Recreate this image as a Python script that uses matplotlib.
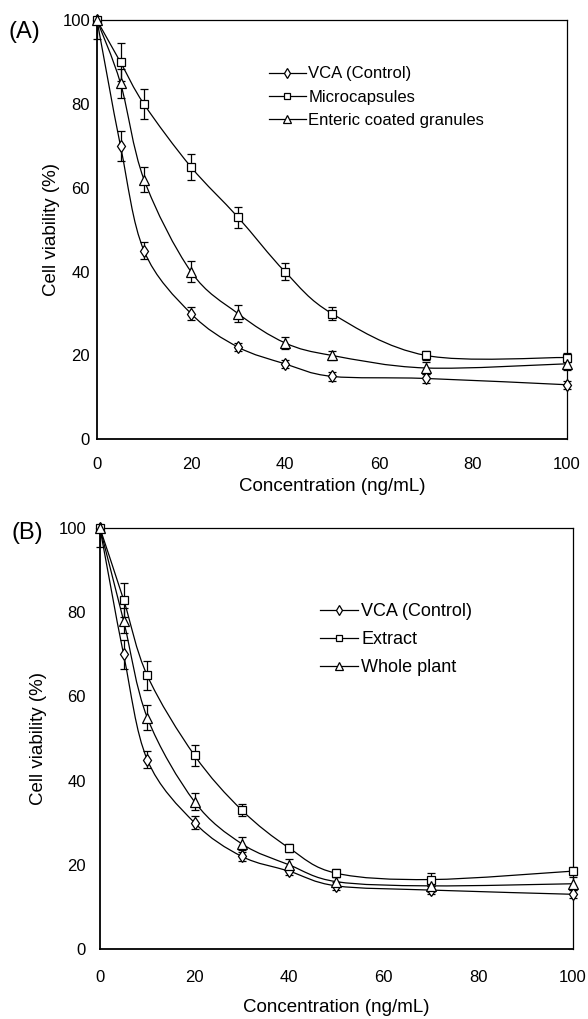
import matplotlib
matplotlib.use("Agg")
import matplotlib.pyplot as plt
import numpy as np
from matplotlib.path import Path
from matplotlib.patches import PathPatch
from matplotlib.lines import Line2D

plt.rcParams['font.family'] = ['Liberation Sans', 'DejaVu Sans']

conc = [0, 5, 10, 20, 30, 40, 50, 70, 100]

# Panel A
a_vca = [100, 70, 45, 30, 22, 18, 15, 14.5, 13]
a_vca_err = [4.5, 3.5, 2, 1.5, 1, 1, 1, 1, 1]
a_micro = [100, 90, 80, 65, 53, 40, 30, 20, 19.5]
a_micro_err = [0, 4.5, 3.5, 3, 2.5, 2, 1.5, 1, 1]
a_enteric = [100, 85, 62, 40, 30, 23, 20, 17, 18]
a_enteric_err = [0, 3.5, 3, 2.5, 2, 1.5, 1, 1.5, 1.5]

# Panel B
b_vca = [100, 70, 45, 30, 22, 18.5, 15, 14, 13]
b_vca_err = [4.5, 3.5, 2, 1.5, 1, 1, 1, 1, 1]
b_extract = [100, 83, 65, 46, 33, 24, 18, 16.5, 18.5]
b_extract_err = [0, 4, 3.5, 2.5, 1.5, 1, 1, 1.5, 1]
b_whole = [100, 78, 55, 35, 25, 20, 16, 15, 15.5]
b_whole_err = [0, 3, 3, 2, 1.5, 1.5, 1, 1.5, 1.5]

labels_a = ['VCA (Control)', 'Microcapsules', 'Enteric coated granules']
labels_b = ['VCA (Control)', 'Extract', 'Whole plant']
markers = ['d', 's', '^']
msizes = [6.5, 6.0, 7.0]
xticks = [0, 20, 40, 60, 80, 100]
yticks = [0, 20, 40, 60, 80, 100]


def smooth_path(ax, x, y):
    x = np.asarray(x, float)
    y = np.asarray(y, float)
    verts = [(x[0], y[0])]
    codes = [Path.MOVETO]
    n = len(x)
    for i in range(n - 1):
        p0 = (x[max(i - 1, 0)], y[max(i - 1, 0)])
        p1 = (x[i], y[i])
        p2 = (x[i + 1], y[i + 1])
        p3 = (x[min(i + 2, n - 1)], y[min(i + 2, n - 1)])
        c1 = (p1[0] + (p2[0] - p0[0]) / 6, p1[1] + (p2[1] - p0[1]) / 6)
        c2 = (p2[0] - (p3[0] - p1[0]) / 6, p2[1] - (p3[1] - p1[1]) / 6)
        verts += [c1, c2, p2]
        codes += [Path.CURVE4] * 3
    patch = PathPatch(Path(verts, codes), facecolor='none', edgecolor='black', lw=0.9, zorder=2)
    patch.set_clip_on(False)
    ax.add_patch(patch)


def panel(ax, series, errs, labels, leg):
    handles = []
    for s, e, m, ms, lab in zip(series, errs, markers, msizes, labels):
        smooth_path(ax, conc, s)
        s_arr = np.asarray(s, float)
        e_arr = np.asarray(e, float)
        upper = np.minimum(e_arr, 100 - s_arr)
        eb = ax.errorbar(conc, s, yerr=[e_arr, upper], fmt='none', ecolor='black', elinewidth=0.9,
                         capsize=3, capthick=0.9, zorder=3)
        for art in eb.get_children():
            art.set_clip_on(False)
        ax.plot(conc, s, linestyle='none', marker=m, ms=ms, mfc='white', mec='black',
                mew=0.9, zorder=4, clip_on=False)
        handles.append(Line2D([], [], color='black', lw=0.9, marker=m, ms=ms * 0.8,
                              mfc='white', mec='black', mew=0.9, label=lab))
    ax.set_xlim(0, 100)
    ax.set_ylim(0, 100)
    ax.set_xticks(xticks)
    ax.set_yticks(yticks)
    ax.tick_params(length=0, labelsize=12)
    ax.tick_params(axis='x', pad=leg['xpad'])
    ax.tick_params(axis='y', pad=leg['ypad'])
    for name, sp in ax.spines.items():
        sp.set_linewidth(1.3 if name in ('left', 'bottom') else 0.9)
    ax.set_xlabel('Concentration (ng/mL)', fontsize=13.5, labelpad=leg['xlabpad'])
    ax.set_ylabel('Cell viability (%)', fontsize=13.5, labelpad=leg['ylabpad'])
    ax.legend(handles=handles, loc='upper left', bbox_to_anchor=leg['anchor'], frameon=False,
              fontsize=leg['fs'], handlelength=leg['hl'], handletextpad=leg['htp'],
              labelspacing=leg['ls'], borderpad=0, borderaxespad=0)


fig = plt.figure(figsize=(5.88, 10.19), dpi=100)
axA = fig.add_axes([0.165, 0.569, 0.799, 0.411])
axB = fig.add_axes([0.170, 0.0687, 0.804, 0.413])

panel(axA, [a_vca, a_micro, a_enteric], [a_vca_err, a_micro_err, a_enteric_err], labels_a,
      dict(anchor=(0.366, 0.890), fs=12, hl=2.2, htp=0.15, ls=0.5,
           xpad=13, ypad=5, xlabpad=4, ylabpad=2))
panel(axB, [b_vca, b_extract, b_whole], [b_vca_err, b_extract_err, b_whole_err], labels_b,
      dict(anchor=(0.465, 0.822), fs=13, hl=2.1, htp=0.2, ls=0.62,
           xpad=15, ypad=10, xlabpad=10, ylabpad=8))

fig.text(8 / 588, 1 - 32 / 1019, '(A)', fontsize=17, va='center', ha='left')
fig.text(12 / 588, 1 - 533 / 1019, '(B)', fontsize=17, va='center', ha='left')

fig.savefig('out.png', dpi=100)
